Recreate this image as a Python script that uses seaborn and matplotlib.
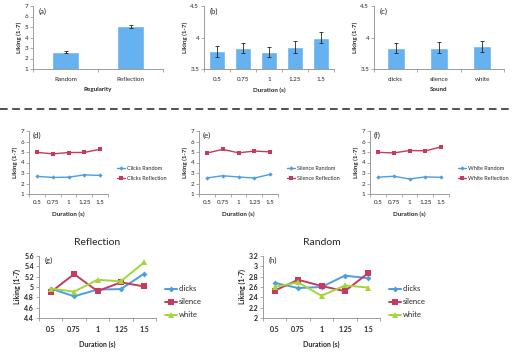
import numpy as np
import pandas as pd
import seaborn as sns
import matplotlib.pyplot as plt
from matplotlib.ticker import FormatStrFormatter
from matplotlib.lines import Line2D

# ---- data ----
regularity = ['Random', 'Reflection']
reg_mean = [2.63, 5.05]
reg_err = [0.12, 0.12]

durations = [0.5, 0.75, 1, 1.25, 1.5]
dur_labels = ['0.5', '0.75', '1', '1.25', '1.5']
dur_mean = [3.78, 3.83, 3.77, 3.85, 4.00]
dur_err = [0.09, 0.08, 0.08, 0.09, 0.08]

sounds = ['clicks', 'silence', 'white']
snd_mean = [3.84, 3.84, 3.86]
snd_err = [0.08, 0.09, 0.09]

clicks_random = [2.68, 2.58, 2.60, 2.82, 2.77]
clicks_reflection = [4.97, 4.82, 4.95, 4.96, 5.26]
silence_random = [2.53, 2.74, 2.62, 2.52, 2.87]
silence_reflection = [4.90, 5.25, 4.92, 5.09, 5.01]
white_random = [2.60, 2.69, 2.43, 2.63, 2.59]
white_reflection = [4.97, 4.91, 5.14, 5.11, 5.48]

BLUE = '#4c9de2'
RED = '#c63a5e'
GREEN = '#a2d63a'
BAR = '#66b1f0'
SPINE = '#8c8c8c'

sns.set_style('white')
plt.rcParams['font.family'] = ['Lato', 'DejaVu Sans']

W, H = 512, 353
fig = plt.figure(figsize=(W / 100, H / 100), dpi=100)


def box(l, t, r, b):
    return fig.add_axes([l / W, 1 - b / H, (r - l) / W, (b - t) / H])


def style(ax, ylab='Liking (1-7)', xlab='', fs=4.5, lfs=4.5, bold_ticks=False,
          xpad=5.5, lpad=4):
    for s in ['top', 'right']:
        ax.spines[s].set_visible(False)
    for s in ['left', 'bottom']:
        ax.spines[s].set_color(SPINE)
        ax.spines[s].set_linewidth(0.6)
    ax.tick_params(axis='y', which='major', length=2, width=0.5, color=SPINE,
                   labelsize=fs, pad=1.5, direction='out', left=True)
    ax.tick_params(axis='x', which='major', length=0, labelsize=fs, pad=xpad)
    ax.tick_params(axis='x', which='minor', length=2, width=0.5, color=SPINE,
                   direction='out', bottom=True)
    ax.set_ylabel(ylab, fontsize=lfs, fontweight='bold', labelpad=2)
    ax.set_xlabel(xlab, fontsize=lfs, fontweight='bold', labelpad=lpad)
    if bold_ticks:
        for t in ax.get_xticklabels() + ax.get_yticklabels():
            t.set_fontweight('bold')


def bars(ax, cats, vals, errs, ylim, yticks, xlab, tag, width=0.42):
    sns.barplot(x=cats, y=vals, color=BAR, width=width, errorbar=None, ax=ax,
                saturation=1)
    ax.errorbar(range(len(cats)), vals, yerr=errs, fmt='none', ecolor='#222222',
                elinewidth=0.6, capsize=1.2, capthick=0.6)
    ax.set_xlim(-0.5, len(cats) - 0.5)
    ax.set_ylim(*ylim)
    ax.set_yticks(yticks)
    ax.yaxis.set_major_formatter(FormatStrFormatter('%g'))
    ax.set_xticks(np.arange(len(cats) + 1) - 0.5, minor=True)
    style(ax, xlab=xlab)
    ax.text(0.04, 0.97, tag, transform=ax.transAxes, fontsize=5.5, va='top')


def lines(ax, series, ylim, yticks, tag, lw, fs, lfs, legend_xy, leg_fs, bold=False,
          xpad=4, lpad=4, tag_x=0.05):
    for vals, lab, col, mk, size in series:
        sns.lineplot(x=durations, y=vals, color=col, marker=mk, markersize=size,
                     markeredgewidth=0, linewidth=lw, ax=ax, label=lab, legend=False)
    ax.set_xlim(0.375, 1.625)
    ax.set_xticks(durations)
    ax.set_xticklabels(dur_labels)
    ax.set_xticks(np.arange(0.375, 1.7, 0.25), minor=True)
    ax.set_ylim(*ylim)
    ax.set_yticks(yticks)
    ax.yaxis.set_major_formatter(FormatStrFormatter('%g'))
    style(ax, xlab='Duration (s)', fs=fs, lfs=lfs, bold_ticks=bold, xpad=xpad, lpad=lpad)
    ax.text(tag_x, 0.99, tag, transform=ax.transAxes, fontsize=5.5, va='top')
    handles = [Line2D([], [], color=c, marker=m, markersize=s, markeredgewidth=0, lw=lw)
               for _, _, c, m, s in series]
    ax.legend(handles, [s[1] for s in series], loc='center left',
              bbox_to_anchor=legend_xy, frameon=False, fontsize=leg_fs,
              handlelength=1.6, handletextpad=0.25,
              labelspacing=0.9 if len(series) == 2 else 0.8, borderaxespad=0)


# ---- top row: bar charts ----
bars(box(33, 6, 163, 69), regularity, reg_mean, reg_err, (1, 7), range(1, 8),
     'Regularity', '(a)')
bars(box(204, 6, 334, 69), dur_labels, dur_mean, dur_err, (3.5, 4.5), [3.5, 4, 4.5],
     'Duration (s)', '(b)', width=0.62)
bars(box(374, 6, 504, 69), sounds, snd_mean, snd_err, (3.5, 4.5), [3.5, 4, 4.5],
     'Sound', '(c)')

# dashed separator
fig.add_artist(Line2D([0, 1], [1 - 109 / H, 1 - 109 / H], transform=fig.transFigure,
                      color='#222222', lw=1.1, dashes=(5, 3)))

# ---- middle row: random vs reflection per sound ----
mid = [
    ((29, 131, 108, 194), clicks_random, clicks_reflection, 'Clicks', '(d)'),
    ((199, 131, 278, 194), silence_random, silence_reflection, 'Silence', '(e)'),
    ((370, 131, 449, 194), white_random, white_reflection, 'White', '(f)'),
]
for pos, rnd, refl, name, tag in mid:
    ax = box(*pos)
    lines(ax, [(rnd, name + ' Random', BLUE, 'D', 2.2),
               (refl, name + ' Reflection', RED, 's', 3.2)],
          (1, 7), range(1, 8), tag, 1.0, 4.5, 4.5, (1.08, 0.32), 4, lpad=5, tag_x=0.04)

# ---- bottom row: by sound within condition ----
ax = box(39, 256, 156, 318)
lines(ax, [(clicks_reflection, 'clicks', BLUE, 'D', 3),
           (silence_reflection, 'silence', RED, 's', 4),
           (white_reflection, 'white', GREEN, '^', 4.5)],
      (4.4, 5.6), np.round(np.arange(4.4, 5.61, 0.2), 1), '(g)', 1.4, 5, 5,
      (1.05, 0.26), 5.5, bold=True, xpad=6, lpad=5)
ax.set_title('Reflection', fontsize=7.5, pad=8)

ax = box(263, 256, 380, 318)
lines(ax, [(clicks_random, 'clicks', BLUE, 'D', 3),
           (silence_random, 'silence', RED, 's', 4),
           (white_random, 'white', GREEN, '^', 4.5)],
      (2, 3.2), np.round(np.arange(2, 3.21, 0.2), 1), '(h)', 1.4, 5, 5,
      (1.05, 0.26), 5.5, bold=True, xpad=6, lpad=5)
ax.set_title('Random', fontsize=7.5, pad=8)

fig.savefig('out.png', dpi=100)
